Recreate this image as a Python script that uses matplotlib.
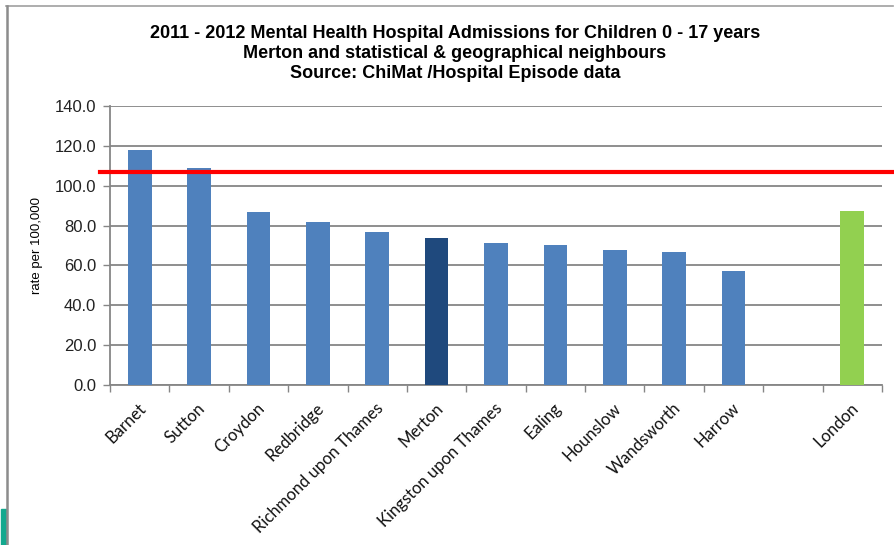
import matplotlib.pyplot as plt
from matplotlib.lines import Line2D
from matplotlib.patches import Rectangle

areas = ["Barnet", "Sutton", "Croydon", "Redbridge", "Richmond upon Thames",
         "Merton", "Kingston upon Thames", "Ealing", "Hounslow", "Wandsworth",
         "Harrow", "", "London"]
rates = [118.0, 108.7, 86.7, 81.6, 76.6, 73.6, 71.1, 70.1, 67.6, 66.6, 57.2, None, 87.2]
england_rate = 107.0
yticks = [0, 20, 40, 60, 80, 100, 120, 140]

bar_colors = {"Merton": "#1F497D", "London": "#92D050"}
default_color = "#4F81BD"
grid_color = "#868686"

fig = plt.figure(figsize=(8.94, 5.45), dpi=100)
ax = fig.add_axes([0.1230, 0.2936, 0.8636, 0.5119])

for i, (name, val) in enumerate(zip(areas, rates)):
    if val is None:
        continue
    ax.bar(i, val, width=0.4, color=bar_colors.get(name, default_color), zorder=3)

ax.set_xlim(-0.5, len(areas) - 0.5)
ax.set_ylim(0, 140)
ax.set_yticks(yticks)
ax.set_yticklabels([f"{v:.1f}" for v in yticks], fontsize=12,
                   family="Liberation Sans", color="#222222")
ax.yaxis.grid(True, color=grid_color, linewidth=1.3, zorder=0)
ax.tick_params(axis="y", length=5, width=1, color=grid_color, pad=5)

# category labels between boundary ticks
ax.set_xticks(range(len(areas)))
ax.set_xticklabels([])
ax.set_xticks([i - 0.5 for i in range(len(areas) + 1)], minor=True)
ax.tick_params(axis="x", which="major", length=0)
ax.tick_params(axis="x", which="minor", length=5, width=1, color=grid_color)
for i, name in enumerate(areas):
    ax.text(i - 0.03, -7.5, name, rotation=45, ha="right", va="top",
            rotation_mode="anchor", fontsize=12, family="Lato", color="#111111")

for side in ["top", "right"]:
    ax.spines[side].set_visible(False)
for side in ["left", "bottom"]:
    ax.spines[side].set_color(grid_color)
    ax.spines[side].set_linewidth(1.3)

ax.set_ylabel("rate per 100,000", fontsize=9.5, family="Liberation Sans", labelpad=8)

# England reference line
ax.axhline(england_rate, xmin=-0.013, xmax=1.02, color="#FF0000", linewidth=3,
           clip_on=False, zorder=4)

title_lines = ["2011 - 2012 Mental Health Hospital Admissions for Children 0 - 17 years",
               "Merton and statistical & geographical neighbours",
               "Source: ChiMat /Hospital Episode data"]
for k, line in enumerate(title_lines):
    fig.text(455 / 894, 1 - (33 + 20 * k) / 545, line, ha="center", va="center",
             fontsize=13, fontweight="bold", family="Liberation Sans")

# slide frame
fig.add_artist(Line2D([6 / 894, 893 / 894], [1 - 6 / 545, 1 - 6 / 545],
                      color="#A0A0A0", linewidth=1.2))
fig.add_artist(Line2D([6.5 / 894, 6.5 / 894], [1 - 6 / 545, 0],
                      color="#8C8C8C", linewidth=1.8))
fig.add_artist(Rectangle((1 / 894, 0), 5 / 894, 36 / 545, color="#14A88E"))

fig.savefig("out.png", dpi=100)
